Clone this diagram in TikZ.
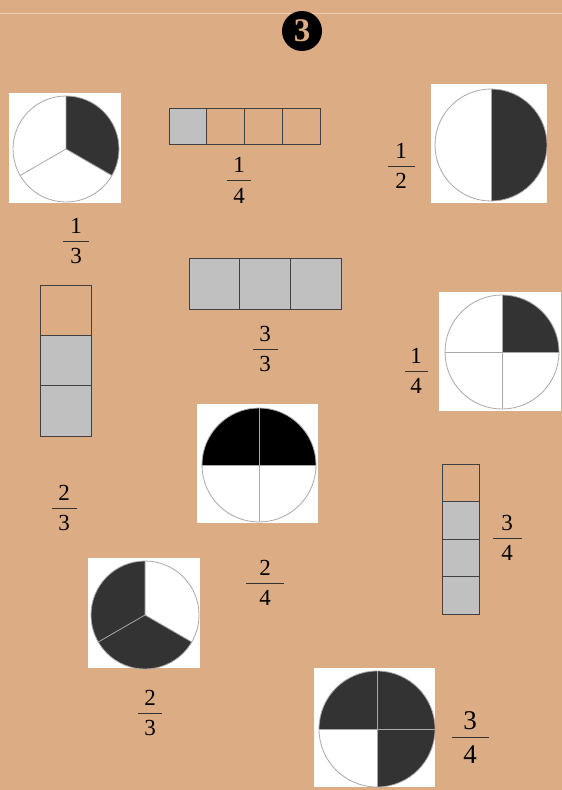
\documentclass[tikz,border=0pt]{standalone}
\usepackage{fontspec}
\setmainfont{Liberation Serif}
\usetikzlibrary{positioning}
\definecolor{sheettan}{HTML}{DCAC84}
\definecolor{sheetline}{HTML}{EBCDB0}
\definecolor{piedark}{HTML}{333333}
\definecolor{pierim}{HTML}{A8A8A8}
\definecolor{cellgrey}{HTML}{C0C0C0}
\definecolor{celledge}{HTML}{404040}

\begin{document}
\begin{tikzpicture}[x=1pt,y=1pt,
  picbox/.style={fill=white,inner sep=0pt,outer sep=0pt},
  rim/.style={draw=pierim,line width=0.8pt},
  spoke/.style={draw=pierim,line width=0.8pt},
  cell/.style={draw=celledge,line width=0.8pt,inner sep=0pt,outer sep=0pt},
  quartcell/.style={cell,minimum width=37.75pt,minimum height=36pt},
  thirdcell/.style={cell,minimum width=50.67pt,minimum height=51pt},
  tallcell/.style={cell,minimum width=51pt,minimum height=50.33pt},
  slimcell/.style={cell,minimum width=37pt,minimum height=37.5pt},
  fracbar/.style={fill=black!80,inner sep=0pt,outer sep=0pt,minimum height=1pt},
  fracdig/.style={inner sep=0pt,font=\fontsize{23}{25}\selectfont},
  bigdig/.style={inner sep=0pt,font=\fontsize{27}{29}\selectfont}
]
\fill[sheettan] (0,0) rectangle (562,-790);
\useasboundingbox (0,0) rectangle (562,-790);
\draw[sheetline,line width=1pt] (0,-13.5) -- (562,-13.5);

% exercise number
\node[circle,fill=black,minimum size=40pt,inner sep=0pt,text=sheettan,
  font=\fontsize{33}{33}\selectfont\bfseries] (exno) at (302,-31) {3};

% pie: one third
\node[picbox,minimum width=112pt,minimum height=110pt] (pie13) at (65,-148) {};
\coordinate (c13) at (66,-149);
\fill[piedark] (c13) -- ++(90:53pt) arc[start angle=90,end angle=-30,radius=53pt] -- cycle;
\draw[rim] (c13) circle[radius=53pt];
\draw[spoke] (c13) -- ++(90:53pt) (c13) -- ++(210:53pt) (c13) -- ++(-30:53pt);

% bar: one quarter
\node[quartcell,fill=cellgrey] (q1) at (187.9,-126) {};
\node[quartcell,right=0pt of q1] (q2) {};
\node[quartcell,right=0pt of q2] (q3) {};
\node[quartcell,right=0pt of q3] (q4) {};

% pie: one half
\node[picbox,minimum width=116pt,minimum height=119pt] (pie12) at (489,-143.5) {};
\coordinate (c12) at (491,-145);
\fill[piedark] (c12) -- ++(90:56pt) arc[start angle=90,end angle=-90,radius=56pt] -- cycle;
\draw[rim] (c12) circle[radius=56pt];
\draw[spoke] (c12) ++(90:56pt) -- ++(-90:112pt);

% bar: three thirds
\node[thirdcell,fill=cellgrey] (t1) at (214.3,-283.5) {};
\node[thirdcell,fill=cellgrey,right=0pt of t1] (t2) {};
\node[thirdcell,fill=cellgrey,right=0pt of t2] (t3) {};

% column: two thirds
\node[tallcell] (v1) at (65.5,-310.2) {};
\node[tallcell,fill=cellgrey,below=0pt of v1] (v2) {};
\node[tallcell,fill=cellgrey,below=0pt of v2] (v3) {};

% pie: one quarter
\node[picbox,minimum width=122pt,minimum height=119pt] (pie14) at (500,-351.5) {};
\coordinate (c14) at (502,-352);
\fill[piedark] (c14) -- ++(90:57pt) arc[start angle=90,end angle=0,radius=57pt] -- cycle;
\draw[rim] (c14) circle[radius=57pt];
\draw[spoke] (c14) ++(90:57pt) -- ++(-90:114pt);
\draw[spoke] (c14) ++(180:57pt) -- ++(0:114pt);

% pie: two quarters
\node[picbox,minimum width=121pt,minimum height=119pt] (pie24) at (257.5,-463.5) {};
\coordinate (c24) at (259,-465);
\fill[black] (c24) -- ++(0:57pt) arc[start angle=0,end angle=180,radius=57pt] -- cycle;
\draw[rim] (c24) circle[radius=57pt];
\draw[spoke] (c24) ++(90:57pt) -- ++(-90:114pt);
\draw[spoke] (c24) ++(180:57pt) -- ++(0:114pt);

% column: three quarters
\node[slimcell] (w1) at (460.5,-482.75) {};
\node[slimcell,fill=cellgrey,below=0pt of w1] (w2) {};
\node[slimcell,fill=cellgrey,below=0pt of w2] (w3) {};
\node[slimcell,fill=cellgrey,below=0pt of w3] (w4) {};

% pie: two thirds
\node[picbox,minimum width=112pt,minimum height=110pt] (pie23) at (144,-613) {};
\coordinate (c23) at (145,-615);
\fill[piedark] (c23) -- ++(90:54pt) arc[start angle=90,end angle=330,radius=54pt] -- cycle;
\draw[rim] (c23) circle[radius=54pt];
\draw[spoke] (c23) -- ++(90:54pt) (c23) -- ++(210:54pt) (c23) -- ++(330:54pt);

% pie: three quarters
\node[picbox,minimum width=121pt,minimum height=119pt] (pie34) at (374.5,-727.5) {};
\coordinate (c34) at (377,-729);
\fill[piedark] (c34) -- ++(-90:58pt) arc[start angle=-90,end angle=180,radius=58pt] -- cycle;
\draw[rim] (c34) circle[radius=58pt];
\draw[spoke] (c34) ++(90:58pt) -- ++(-90:116pt);
\draw[spoke] (c34) ++(180:58pt) -- ++(0:116pt);

% fractions
\node[fracbar,minimum width=26pt] (f13bar) at (76,-241.5) {};
\node[fracdig,above=7pt of f13bar] (f13num) {1};
\node[fracdig,below=6pt of f13bar] (f13den) {3};

\node[fracbar,minimum width=24pt] (f14bar) at (239,-180) {};
\node[fracdig,above=7pt of f14bar] (f14num) {1};
\node[fracdig,below=8pt of f14bar] (f14den) {4};

\node[fracbar,minimum width=27pt] (f12bar) at (401,-166) {};
\node[fracdig,above=7pt of f12bar] (f12num) {1};
\node[fracdig,below=7pt of f12bar] (f12den) {2};

\node[fracbar,minimum width=25pt] (f33bar) at (265,-349) {};
\node[fracdig,above=7pt of f33bar] (f33num) {3};
\node[fracdig,below=7pt of f33bar] (f33den) {3};

\node[fracbar,minimum width=25pt] (f23abar) at (64,-508) {};
\node[fracdig,above=7pt of f23abar] (f23anum) {2};
\node[fracdig,below=7pt of f23abar] (f23aden) {3};

\node[fracbar,minimum width=23pt] (f14bbar) at (416,-371) {};
\node[fracdig,above=7pt of f14bbar] (f14bnum) {1};
\node[fracdig,below=7pt of f14bbar] (f14bden) {4};

\node[fracbar,minimum width=38pt] (f24bar) at (265,-583) {};
\node[fracdig,above=7pt of f24bar] (f24num) {2};
\node[fracdig,below=7pt of f24bar] (f24den) {4};

\node[fracbar,minimum width=29pt] (f34abar) at (507,-538) {};
\node[fracdig,above=7pt of f34abar] (f34anum) {3};
\node[fracdig,below=7pt of f34abar] (f34aden) {4};

\node[fracbar,minimum width=24pt] (f23bbar) at (150,-713) {};
\node[fracdig,above=7pt of f23bbar] (f23bnum) {2};
\node[fracdig,below=7pt of f23bbar] (f23bden) {3};

\node[fracbar,minimum width=37pt] (f34bbar) at (470,-737) {};
\node[bigdig,above=7pt of f34bbar] (f34bnum) {3};
\node[bigdig,below=8pt of f34bbar] (f34bden) {4};
\end{tikzpicture}
\end{document}
